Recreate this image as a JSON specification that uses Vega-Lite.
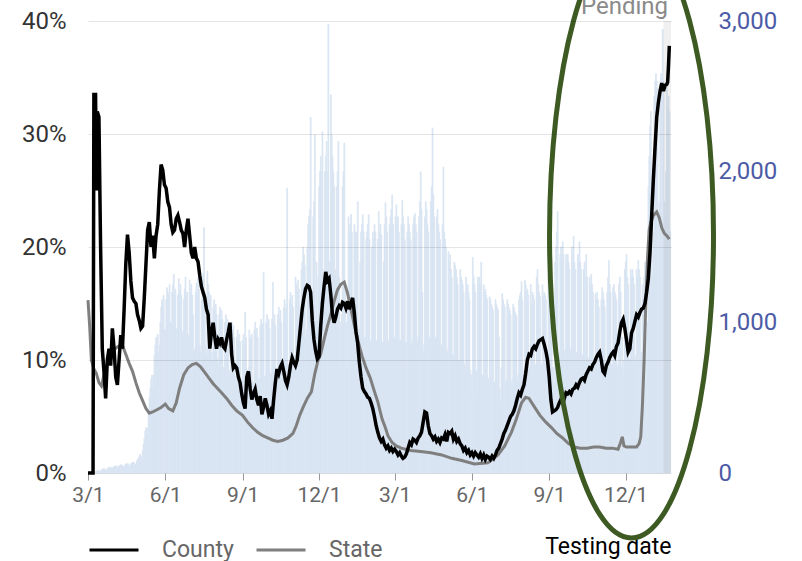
{
"$schema":"https://vega.github.io/schema/vega-lite/v6.json",
"width":583,"height":452,
"autosize":{"type":"none"},
"padding":{"left":88,"top":21,"right":131,"bottom":88},
"background":"white",
"config":{"view":{"stroke":null},"font":"Roboto"},
"datasets":{
"bars":[
{"d":"2020-03-01","n":0},{"d":"2020-03-02","n":0},{"d":"2020-03-03","n":0},{"d":"2020-03-04","n":0},{"d":"2020-03-05","n":5},{"d":"2020-03-06","n":8},{"d":"2020-03-07","n":6},
{"d":"2020-03-08","n":5},{"d":"2020-03-09","n":10},{"d":"2020-03-10","n":12},{"d":"2020-03-11","n":15},{"d":"2020-03-12","n":14},{"d":"2020-03-13","n":16},{"d":"2020-03-14","n":10},
{"d":"2020-03-15","n":12},{"d":"2020-03-16","n":20},{"d":"2020-03-17","n":25},{"d":"2020-03-18","n":28},{"d":"2020-03-19","n":30},{"d":"2020-03-20","n":26},{"d":"2020-03-21","n":18},
{"d":"2020-03-22","n":20},{"d":"2020-03-23","n":30},{"d":"2020-03-24","n":35},{"d":"2020-03-25","n":38},{"d":"2020-03-26","n":36},{"d":"2020-03-27","n":40},{"d":"2020-03-28","n":28},
{"d":"2020-03-29","n":30},{"d":"2020-03-30","n":40},{"d":"2020-03-31","n":42},{"d":"2020-04-01","n":45},{"d":"2020-04-02","n":44},{"d":"2020-04-03","n":48},{"d":"2020-04-04","n":35},
{"d":"2020-04-05","n":35},{"d":"2020-04-06","n":48},{"d":"2020-04-07","n":50},{"d":"2020-04-08","n":55},{"d":"2020-04-09","n":52},{"d":"2020-04-10","n":50},{"d":"2020-04-11","n":40},
{"d":"2020-04-12","n":40},{"d":"2020-04-13","n":55},{"d":"2020-04-14","n":60},{"d":"2020-04-15","n":62},{"d":"2020-04-16","n":58},{"d":"2020-04-17","n":60},{"d":"2020-04-18","n":45},
{"d":"2020-04-19","n":45},{"d":"2020-04-20","n":62},{"d":"2020-04-21","n":66},{"d":"2020-04-22","n":70},{"d":"2020-04-23","n":72},{"d":"2020-04-24","n":68},{"d":"2020-04-25","n":55},
{"d":"2020-04-26","n":55},{"d":"2020-04-27","n":80},{"d":"2020-04-28","n":90},{"d":"2020-04-29","n":100},{"d":"2020-04-30","n":110},{"d":"2020-05-01","n":125},{"d":"2020-05-02","n":100},
{"d":"2020-05-03","n":110},{"d":"2020-05-04","n":150},{"d":"2020-05-05","n":190},{"d":"2020-05-06","n":230},{"d":"2020-05-07","n":280},{"d":"2020-05-08","n":300},{"d":"2020-05-09","n":250},
{"d":"2020-05-10","n":300},{"d":"2020-05-11","n":420},{"d":"2020-05-12","n":500},{"d":"2020-05-13","n":560},{"d":"2020-05-14","n":620},{"d":"2020-05-15","n":650},{"d":"2020-05-16","n":560},
{"d":"2020-05-17","n":650},{"d":"2020-05-18","n":780},{"d":"2020-05-19","n":850},{"d":"2020-05-20","n":900},{"d":"2020-05-21","n":880},{"d":"2020-05-22","n":920},{"d":"2020-05-23","n":800},
{"d":"2020-05-24","n":850},{"d":"2020-05-25","n":1000},{"d":"2020-05-26","n":1100},{"d":"2020-05-27","n":1150},{"d":"2020-05-28","n":1120},{"d":"2020-05-29","n":1180},{"d":"2020-05-30","n":950},
{"d":"2020-05-31","n":950},{"d":"2020-06-01","n":1150},{"d":"2020-06-02","n":1230},{"d":"2020-06-03","n":1200},{"d":"2020-06-04","n":1180},{"d":"2020-06-05","n":1250},{"d":"2020-06-06","n":1000},
{"d":"2020-06-07","n":980},{"d":"2020-06-08","n":1200},{"d":"2020-06-09","n":1250},{"d":"2020-06-10","n":1320},{"d":"2020-06-11","n":1180},{"d":"2020-06-12","n":1220},{"d":"2020-06-13","n":950},
{"d":"2020-06-14","n":960},{"d":"2020-06-15","n":1180},{"d":"2020-06-16","n":1290},{"d":"2020-06-17","n":1200},{"d":"2020-06-18","n":1250},{"d":"2020-06-19","n":1180},{"d":"2020-06-20","n":940},
{"d":"2020-06-21","n":900},{"d":"2020-06-22","n":1150},{"d":"2020-06-23","n":1220},{"d":"2020-06-24","n":1300},{"d":"2020-06-25","n":1180},{"d":"2020-06-26","n":1200},{"d":"2020-06-27","n":920},
{"d":"2020-06-28","n":900},{"d":"2020-06-29","n":1280},{"d":"2020-06-30","n":1200},{"d":"2020-07-01","n":1250},{"d":"2020-07-02","n":1180},{"d":"2020-07-03","n":1050},{"d":"2020-07-04","n":800},
{"d":"2020-07-05","n":820},{"d":"2020-07-06","n":1200},{"d":"2020-07-07","n":1260},{"d":"2020-07-08","n":1180},{"d":"2020-07-09","n":1300},{"d":"2020-07-10","n":1220},{"d":"2020-07-11","n":850},
{"d":"2020-07-12","n":800},{"d":"2020-07-13","n":1150},{"d":"2020-07-14","n":1250},{"d":"2020-07-15","n":1320},{"d":"2020-07-16","n":1630},{"d":"2020-07-17","n":1200},{"d":"2020-07-18","n":840},
{"d":"2020-07-19","n":780},{"d":"2020-07-20","n":1340},{"d":"2020-07-21","n":1250},{"d":"2020-07-22","n":1200},{"d":"2020-07-23","n":1150},{"d":"2020-07-24","n":1180},{"d":"2020-07-25","n":800},
{"d":"2020-07-26","n":750},{"d":"2020-07-27","n":1100},{"d":"2020-07-28","n":1150},{"d":"2020-07-29","n":1080},{"d":"2020-07-30","n":1120},{"d":"2020-07-31","n":1050},{"d":"2020-08-01","n":760},
{"d":"2020-08-02","n":720},{"d":"2020-08-03","n":1050},{"d":"2020-08-04","n":1100},{"d":"2020-08-05","n":1000},{"d":"2020-08-06","n":1080},{"d":"2020-08-07","n":1020},{"d":"2020-08-08","n":700},
{"d":"2020-08-09","n":700},{"d":"2020-08-10","n":1000},{"d":"2020-08-11","n":1050},{"d":"2020-08-12","n":980},{"d":"2020-08-13","n":1020},{"d":"2020-08-14","n":950},{"d":"2020-08-15","n":680},
{"d":"2020-08-16","n":650},{"d":"2020-08-17","n":950},{"d":"2020-08-18","n":1000},{"d":"2020-08-19","n":920},{"d":"2020-08-20","n":980},{"d":"2020-08-21","n":900},{"d":"2020-08-22","n":640},
{"d":"2020-08-23","n":620},{"d":"2020-08-24","n":900},{"d":"2020-08-25","n":950},{"d":"2020-08-26","n":880},{"d":"2020-08-27","n":920},{"d":"2020-08-28","n":870},{"d":"2020-08-29","n":600},
{"d":"2020-08-30","n":600},{"d":"2020-08-31","n":880},{"d":"2020-09-01","n":920},{"d":"2020-09-02","n":850},{"d":"2020-09-03","n":1065},{"d":"2020-09-04","n":900},{"d":"2020-09-05","n":600},
{"d":"2020-09-06","n":560},{"d":"2020-09-07","n":700},{"d":"2020-09-08","n":950},{"d":"2020-09-09","n":900},{"d":"2020-09-10","n":880},{"d":"2020-09-11","n":920},{"d":"2020-09-12","n":600},
{"d":"2020-09-13","n":600},{"d":"2020-09-14","n":950},{"d":"2020-09-15","n":1000},{"d":"2020-09-16","n":920},{"d":"2020-09-17","n":960},{"d":"2020-09-18","n":900},{"d":"2020-09-19","n":620},
{"d":"2020-09-20","n":620},{"d":"2020-09-21","n":980},{"d":"2020-09-22","n":1020},{"d":"2020-09-23","n":950},{"d":"2020-09-24","n":990},{"d":"2020-09-25","n":1330},{"d":"2020-09-26","n":640},
{"d":"2020-09-27","n":640},{"d":"2020-09-28","n":1000},{"d":"2020-09-29","n":1050},{"d":"2020-09-30","n":980},{"d":"2020-10-01","n":1020},{"d":"2020-10-02","n":960},{"d":"2020-10-03","n":660},
{"d":"2020-10-04","n":650},{"d":"2020-10-05","n":1020},{"d":"2020-10-06","n":1265},{"d":"2020-10-07","n":1000},{"d":"2020-10-08","n":1050},{"d":"2020-10-09","n":980},{"d":"2020-10-10","n":680},
{"d":"2020-10-11","n":680},{"d":"2020-10-12","n":1050},{"d":"2020-10-13","n":1100},{"d":"2020-10-14","n":1020},{"d":"2020-10-15","n":1080},{"d":"2020-10-16","n":1000},{"d":"2020-10-17","n":700},
{"d":"2020-10-18","n":700},{"d":"2020-10-19","n":1100},{"d":"2020-10-20","n":1150},{"d":"2020-10-21","n":1080},{"d":"2020-10-22","n":1120},{"d":"2020-10-23","n":1890},{"d":"2020-10-24","n":720},
{"d":"2020-10-25","n":720},{"d":"2020-10-26","n":1150},{"d":"2020-10-27","n":1200},{"d":"2020-10-28","n":1120},{"d":"2020-10-29","n":1180},{"d":"2020-10-30","n":1100},{"d":"2020-10-31","n":750},
{"d":"2020-11-01","n":780},{"d":"2020-11-02","n":1300},{"d":"2020-11-03","n":1250},{"d":"2020-11-04","n":1200},{"d":"2020-11-05","n":1280},{"d":"2020-11-06","n":1220},{"d":"2020-11-07","n":820},
{"d":"2020-11-08","n":850},{"d":"2020-11-09","n":1350},{"d":"2020-11-10","n":1400},{"d":"2020-11-11","n":1500},{"d":"2020-11-12","n":1450},{"d":"2020-11-13","n":1380},{"d":"2020-11-14","n":900},
{"d":"2020-11-15","n":950},{"d":"2020-11-16","n":1500},{"d":"2020-11-17","n":1650},{"d":"2020-11-18","n":1700},{"d":"2020-11-19","n":1750},{"d":"2020-11-20","n":2360},{"d":"2020-11-21","n":1050},
{"d":"2020-11-22","n":1000},{"d":"2020-11-23","n":1700},{"d":"2020-11-24","n":1800},{"d":"2020-11-25","n":2245},{"d":"2020-11-26","n":1000},{"d":"2020-11-27","n":1400},{"d":"2020-11-28","n":1000},
{"d":"2020-11-29","n":1300},{"d":"2020-11-30","n":1900},{"d":"2020-12-01","n":2000},{"d":"2020-12-02","n":2100},{"d":"2020-12-03","n":2000},{"d":"2020-12-04","n":2265},{"d":"2020-12-05","n":1300},
{"d":"2020-12-06","n":1350},{"d":"2020-12-07","n":2000},{"d":"2020-12-08","n":2100},{"d":"2020-12-09","n":2200},{"d":"2020-12-10","n":2000},{"d":"2020-12-11","n":2980},{"d":"2020-12-12","n":1400},
{"d":"2020-12-13","n":1400},{"d":"2020-12-14","n":2510},{"d":"2020-12-15","n":2245},{"d":"2020-12-16","n":2100},{"d":"2020-12-17","n":2000},{"d":"2020-12-18","n":1900},{"d":"2020-12-19","n":1350},
{"d":"2020-12-20","n":1300},{"d":"2020-12-21","n":1900},{"d":"2020-12-22","n":2000},{"d":"2020-12-23","n":2200},{"d":"2020-12-24","n":1300},{"d":"2020-12-25","n":700},{"d":"2020-12-26","n":1000},
{"d":"2020-12-27","n":1050},{"d":"2020-12-28","n":1900},{"d":"2020-12-29","n":2000},{"d":"2020-12-30","n":2190},{"d":"2020-12-31","n":1200},{"d":"2021-01-01","n":700},{"d":"2021-01-02","n":1000},
{"d":"2021-01-03","n":1100},{"d":"2021-01-04","n":1700},{"d":"2021-01-05","n":1600},{"d":"2021-01-06","n":1650},{"d":"2021-01-07","n":1715},{"d":"2021-01-08","n":1600},{"d":"2021-01-09","n":1000},
{"d":"2021-01-10","n":1050},{"d":"2021-01-11","n":1650},{"d":"2021-01-12","n":1600},{"d":"2021-01-13","n":1550},{"d":"2021-01-14","n":1600},{"d":"2021-01-15","n":1800},{"d":"2021-01-16","n":950},
{"d":"2021-01-17","n":950},{"d":"2021-01-18","n":1400},{"d":"2021-01-19","n":1600},{"d":"2021-01-20","n":1650},{"d":"2021-01-21","n":1715},{"d":"2021-01-22","n":1600},{"d":"2021-01-23","n":900},
{"d":"2021-01-24","n":900},{"d":"2021-01-25","n":1550},{"d":"2021-01-26","n":1600},{"d":"2021-01-27","n":1650},{"d":"2021-01-28","n":1715},{"d":"2021-01-29","n":1550},{"d":"2021-01-30","n":880},
{"d":"2021-01-31","n":880},{"d":"2021-02-01","n":1500},{"d":"2021-02-02","n":1600},{"d":"2021-02-03","n":1550},{"d":"2021-02-04","n":1650},{"d":"2021-02-05","n":1600},{"d":"2021-02-06","n":860},
{"d":"2021-02-07","n":880},{"d":"2021-02-08","n":1550},{"d":"2021-02-09","n":1735},{"d":"2021-02-10","n":1600},{"d":"2021-02-11","n":1650},{"d":"2021-02-12","n":1580},{"d":"2021-02-13","n":870},
{"d":"2021-02-14","n":860},{"d":"2021-02-15","n":1400},{"d":"2021-02-16","n":1650},{"d":"2021-02-17","n":1795},{"d":"2021-02-18","n":1700},{"d":"2021-02-19","n":1600},{"d":"2021-02-20","n":850},
{"d":"2021-02-21","n":880},{"d":"2021-02-22","n":1650},{"d":"2021-02-23","n":1700},{"d":"2021-02-24","n":1750},{"d":"2021-02-25","n":1845},{"d":"2021-02-26","n":1650},{"d":"2021-02-27","n":880},
{"d":"2021-02-28","n":900},{"d":"2021-03-01","n":1700},{"d":"2021-03-02","n":1780},{"d":"2021-03-03","n":1650},{"d":"2021-03-04","n":1700},{"d":"2021-03-05","n":1600},{"d":"2021-03-06","n":880},
{"d":"2021-03-07","n":880},{"d":"2021-03-08","n":1650},{"d":"2021-03-09","n":1810},{"d":"2021-03-10","n":1700},{"d":"2021-03-11","n":1650},{"d":"2021-03-12","n":1550},{"d":"2021-03-13","n":860},
{"d":"2021-03-14","n":870},{"d":"2021-03-15","n":1600},{"d":"2021-03-16","n":1700},{"d":"2021-03-17","n":1650},{"d":"2021-03-18","n":1600},{"d":"2021-03-19","n":1550},{"d":"2021-03-20","n":850},
{"d":"2021-03-21","n":880},{"d":"2021-03-22","n":1650},{"d":"2021-03-23","n":1700},{"d":"2021-03-24","n":1720},{"d":"2021-03-25","n":1650},{"d":"2021-03-26","n":1600},{"d":"2021-03-27","n":870},
{"d":"2021-03-28","n":900},{"d":"2021-03-29","n":1700},{"d":"2021-03-30","n":1800},{"d":"2021-03-31","n":2000},{"d":"2021-04-01","n":1750},{"d":"2021-04-02","n":1200},{"d":"2021-04-03","n":800},
{"d":"2021-04-04","n":850},{"d":"2021-04-05","n":1700},{"d":"2021-04-06","n":1800},{"d":"2021-04-07","n":1750},{"d":"2021-04-08","n":1650},{"d":"2021-04-09","n":1600},{"d":"2021-04-10","n":880},
{"d":"2021-04-11","n":900},{"d":"2021-04-12","n":1800},{"d":"2021-04-13","n":1900},{"d":"2021-04-14","n":2290},{"d":"2021-04-15","n":1850},{"d":"2021-04-16","n":1700},{"d":"2021-04-17","n":900},
{"d":"2021-04-18","n":880},{"d":"2021-04-19","n":1700},{"d":"2021-04-20","n":1750},{"d":"2021-04-21","n":1650},{"d":"2021-04-22","n":1600},{"d":"2021-04-23","n":1550},{"d":"2021-04-24","n":850},
{"d":"2021-04-25","n":850},{"d":"2021-04-26","n":1650},{"d":"2021-04-27","n":2030},{"d":"2021-04-28","n":1600},{"d":"2021-04-29","n":1550},{"d":"2021-04-30","n":1500},{"d":"2021-05-01","n":820},
{"d":"2021-05-02","n":800},{"d":"2021-05-03","n":1470},{"d":"2021-05-04","n":1400},{"d":"2021-05-05","n":1450},{"d":"2021-05-06","n":1350},{"d":"2021-05-07","n":1300},{"d":"2021-05-08","n":780},
{"d":"2021-05-09","n":780},{"d":"2021-05-10","n":1400},{"d":"2021-05-11","n":1380},{"d":"2021-05-12","n":1350},{"d":"2021-05-13","n":1300},{"d":"2021-05-14","n":1250},{"d":"2021-05-15","n":750},
{"d":"2021-05-16","n":750},{"d":"2021-05-17","n":1350},{"d":"2021-05-18","n":1300},{"d":"2021-05-19","n":1280},{"d":"2021-05-20","n":1250},{"d":"2021-05-21","n":1200},{"d":"2021-05-22","n":720},
{"d":"2021-05-23","n":700},{"d":"2021-05-24","n":1300},{"d":"2021-05-25","n":1110},{"d":"2021-05-26","n":1250},{"d":"2021-05-27","n":1200},{"d":"2021-05-28","n":1150},{"d":"2021-05-29","n":680},
{"d":"2021-05-30","n":650},{"d":"2021-05-31","n":500},{"d":"2021-06-01","n":1430},{"d":"2021-06-02","n":1300},{"d":"2021-06-03","n":1250},{"d":"2021-06-04","n":1200},{"d":"2021-06-05","n":650},
{"d":"2021-06-06","n":680},{"d":"2021-06-07","n":1300},{"d":"2021-06-08","n":1250},{"d":"2021-06-09","n":1300},{"d":"2021-06-10","n":1250},{"d":"2021-06-11","n":1400},{"d":"2021-06-12","n":650},
{"d":"2021-06-13","n":650},{"d":"2021-06-14","n":1250},{"d":"2021-06-15","n":1200},{"d":"2021-06-16","n":1220},{"d":"2021-06-17","n":1180},{"d":"2021-06-18","n":1150},{"d":"2021-06-19","n":630},
{"d":"2021-06-20","n":620},{"d":"2021-06-21","n":1170},{"d":"2021-06-22","n":1150},{"d":"2021-06-23","n":1120},{"d":"2021-06-24","n":1100},{"d":"2021-06-25","n":1080},{"d":"2021-06-26","n":600},
{"d":"2021-06-27","n":600},{"d":"2021-06-28","n":1150},{"d":"2021-06-29","n":1120},{"d":"2021-06-30","n":1100},{"d":"2021-07-01","n":1080},{"d":"2021-07-02","n":900},{"d":"2021-07-03","n":560},
{"d":"2021-07-04","n":470},{"d":"2021-07-05","n":700},{"d":"2021-07-06","n":1190},{"d":"2021-07-07","n":1150},{"d":"2021-07-08","n":1120},{"d":"2021-07-09","n":1100},{"d":"2021-07-10","n":600},
{"d":"2021-07-11","n":620},{"d":"2021-07-12","n":1150},{"d":"2021-07-13","n":1120},{"d":"2021-07-14","n":1100},{"d":"2021-07-15","n":1080},{"d":"2021-07-16","n":1050},{"d":"2021-07-17","n":600},
{"d":"2021-07-18","n":620},{"d":"2021-07-19","n":1120},{"d":"2021-07-20","n":1100},{"d":"2021-07-21","n":1070},{"d":"2021-07-22","n":1060},{"d":"2021-07-23","n":1040},{"d":"2021-07-24","n":600},
{"d":"2021-07-25","n":650},{"d":"2021-07-26","n":1150},{"d":"2021-07-27","n":1180},{"d":"2021-07-28","n":1200},{"d":"2021-07-29","n":1270},{"d":"2021-07-30","n":1150},{"d":"2021-07-31","n":650},
{"d":"2021-08-01","n":680},{"d":"2021-08-02","n":1280},{"d":"2021-08-03","n":1250},{"d":"2021-08-04","n":1200},{"d":"2021-08-05","n":1220},{"d":"2021-08-06","n":1180},{"d":"2021-08-07","n":680},
{"d":"2021-08-08","n":700},{"d":"2021-08-09","n":1250},{"d":"2021-08-10","n":1110},{"d":"2021-08-11","n":1200},{"d":"2021-08-12","n":1180},{"d":"2021-08-13","n":1150},{"d":"2021-08-14","n":700},
{"d":"2021-08-15","n":720},{"d":"2021-08-16","n":1300},{"d":"2021-08-17","n":1350},{"d":"2021-08-18","n":1250},{"d":"2021-08-19","n":1200},{"d":"2021-08-20","n":1170},{"d":"2021-08-21","n":720},
{"d":"2021-08-22","n":720},{"d":"2021-08-23","n":1250},{"d":"2021-08-24","n":1170},{"d":"2021-08-25","n":1200},{"d":"2021-08-26","n":1180},{"d":"2021-08-27","n":1150},{"d":"2021-08-28","n":700},
{"d":"2021-08-29","n":720},{"d":"2021-08-30","n":1300},{"d":"2021-08-31","n":1250},{"d":"2021-09-01","n":1280},{"d":"2021-09-02","n":1250},{"d":"2021-09-03","n":1200},{"d":"2021-09-04","n":700},
{"d":"2021-09-05","n":700},{"d":"2021-09-06","n":600},{"d":"2021-09-07","n":1400},{"d":"2021-09-08","n":1500},{"d":"2021-09-09","n":1600},{"d":"2021-09-10","n":1735},{"d":"2021-09-11","n":750},
{"d":"2021-09-12","n":800},{"d":"2021-09-13","n":1450},{"d":"2021-09-14","n":1500},{"d":"2021-09-15","n":1400},{"d":"2021-09-16","n":1535},{"d":"2021-09-17","n":1450},{"d":"2021-09-18","n":800},
{"d":"2021-09-19","n":820},{"d":"2021-09-20","n":1450},{"d":"2021-09-21","n":1400},{"d":"2021-09-22","n":1450},{"d":"2021-09-23","n":1400},{"d":"2021-09-24","n":1350},{"d":"2021-09-25","n":800},
{"d":"2021-09-26","n":830},{"d":"2021-09-27","n":1500},{"d":"2021-09-28","n":1450},{"d":"2021-09-29","n":1570},{"d":"2021-09-30","n":1400},{"d":"2021-10-01","n":1350},{"d":"2021-10-02","n":800},
{"d":"2021-10-03","n":800},{"d":"2021-10-04","n":1450},{"d":"2021-10-05","n":1400},{"d":"2021-10-06","n":1535},{"d":"2021-10-07","n":1400},{"d":"2021-10-08","n":1350},{"d":"2021-10-09","n":780},
{"d":"2021-10-10","n":780},{"d":"2021-10-11","n":1350},{"d":"2021-10-12","n":1400},{"d":"2021-10-13","n":1300},{"d":"2021-10-14","n":1450},{"d":"2021-10-15","n":1300},{"d":"2021-10-16","n":760},
{"d":"2021-10-17","n":760},{"d":"2021-10-18","n":1300},{"d":"2021-10-19","n":1250},{"d":"2021-10-20","n":1320},{"d":"2021-10-21","n":1250},{"d":"2021-10-22","n":1200},{"d":"2021-10-23","n":740},
{"d":"2021-10-24","n":750},{"d":"2021-10-25","n":1190},{"d":"2021-10-26","n":1150},{"d":"2021-10-27","n":1200},{"d":"2021-10-28","n":1150},{"d":"2021-10-29","n":1100},{"d":"2021-10-30","n":720},
{"d":"2021-10-31","n":720},{"d":"2021-11-01","n":1150},{"d":"2021-11-02","n":1230},{"d":"2021-11-03","n":1200},{"d":"2021-11-04","n":1150},{"d":"2021-11-05","n":1100},{"d":"2021-11-06","n":700},
{"d":"2021-11-07","n":720},{"d":"2021-11-08","n":1200},{"d":"2021-11-09","n":1300},{"d":"2021-11-10","n":1410},{"d":"2021-11-11","n":1250},{"d":"2021-11-12","n":1200},{"d":"2021-11-13","n":720},
{"d":"2021-11-14","n":720},{"d":"2021-11-15","n":1230},{"d":"2021-11-16","n":1250},{"d":"2021-11-17","n":1200},{"d":"2021-11-18","n":1180},{"d":"2021-11-19","n":1150},{"d":"2021-11-20","n":700},
{"d":"2021-11-21","n":720},{"d":"2021-11-22","n":1250},{"d":"2021-11-23","n":1300},{"d":"2021-11-24","n":1200},{"d":"2021-11-25","n":700},{"d":"2021-11-26","n":900},{"d":"2021-11-27","n":650},
{"d":"2021-11-28","n":750},{"d":"2021-11-29","n":1350},{"d":"2021-11-30","n":1400},{"d":"2021-12-01","n":1450},{"d":"2021-12-02","n":1300},{"d":"2021-12-03","n":1250},{"d":"2021-12-04","n":750},
{"d":"2021-12-05","n":760},{"d":"2021-12-06","n":1350},{"d":"2021-12-07","n":1300},{"d":"2021-12-08","n":1350},{"d":"2021-12-09","n":1300},{"d":"2021-12-10","n":1250},{"d":"2021-12-11","n":740},
{"d":"2021-12-12","n":780},{"d":"2021-12-13","n":1350},{"d":"2021-12-14","n":1300},{"d":"2021-12-15","n":1410},{"d":"2021-12-16","n":1350},{"d":"2021-12-17","n":1300},{"d":"2021-12-18","n":760},
{"d":"2021-12-19","n":800},{"d":"2021-12-20","n":1250},{"d":"2021-12-21","n":1150},{"d":"2021-12-22","n":1300},{"d":"2021-12-23","n":1400},{"d":"2021-12-24","n":900},{"d":"2021-12-25","n":600},
{"d":"2021-12-26","n":1000},{"d":"2021-12-27","n":1900},{"d":"2021-12-28","n":2100},{"d":"2021-12-29","n":2300},{"d":"2021-12-30","n":2400},{"d":"2021-12-31","n":1800},{"d":"2022-01-01","n":1300},
{"d":"2022-01-02","n":1600},{"d":"2022-01-03","n":2500},{"d":"2022-01-04","n":2600},{"d":"2022-01-05","n":2650},{"d":"2022-01-06","n":2600},{"d":"2022-01-07","n":2550},{"d":"2022-01-08","n":1700},
{"d":"2022-01-09","n":1800},{"d":"2022-01-10","n":2600},{"d":"2022-01-11","n":2650},{"d":"2022-01-12","n":2620},{"d":"2022-01-13","n":2945},{"d":"2022-01-14","n":2600},{"d":"2022-01-15","n":1800},
{"d":"2022-01-16","n":1700},{"d":"2022-01-17","n":2000},{"d":"2022-01-18","n":2600},{"d":"2022-01-19","n":2430},{"d":"2022-01-20","n":2500},{"d":"2022-01-21","n":2400},{"d":"2022-01-22","n":1600}
],
"county":[
{"d":"2020-03-01","c":0},{"d":"2020-03-07","c":0},{"d":"2020-03-08","c":0.335},{"d":"2020-03-10","c":0.335},{"d":"2020-03-11","c":0.25},{"d":"2020-03-12","c":0.32},{"d":"2020-03-14","c":0.315},{"d":"2020-03-16","c":0.2},{"d":"2020-03-18","c":0.11},{"d":"2020-03-20","c":0.09},{"d":"2020-03-22","c":0.066},{"d":"2020-03-24","c":0.1},{"d":"2020-03-26","c":0.11},{"d":"2020-03-28","c":0.095},{"d":"2020-03-30","c":0.128},
{"d":"2020-04-01","c":0.11},{"d":"2020-04-03","c":0.085},{"d":"2020-04-05","c":0.078},{"d":"2020-04-07","c":0.1},{"d":"2020-04-09","c":0.122},{"d":"2020-04-11","c":0.11},{"d":"2020-04-13","c":0.145},{"d":"2020-04-15","c":0.185},{"d":"2020-04-17","c":0.211},{"d":"2020-04-19","c":0.195},{"d":"2020-04-21","c":0.17},{"d":"2020-04-23","c":0.155},{"d":"2020-04-25","c":0.152},{"d":"2020-04-27","c":0.15},{"d":"2020-04-29","c":0.14},
{"d":"2020-05-01","c":0.135},{"d":"2020-05-03","c":0.128},{"d":"2020-05-05","c":0.13},{"d":"2020-05-07","c":0.155},{"d":"2020-05-09","c":0.185},{"d":"2020-05-11","c":0.215},{"d":"2020-05-13","c":0.222},{"d":"2020-05-15","c":0.2},{"d":"2020-05-17","c":0.21},{"d":"2020-05-19","c":0.19},{"d":"2020-05-21","c":0.21},{"d":"2020-05-23","c":0.22},{"d":"2020-05-25","c":0.25},{"d":"2020-05-27","c":0.273},{"d":"2020-05-29","c":0.268},{"d":"2020-05-31","c":0.255},
{"d":"2020-06-02","c":0.252},{"d":"2020-06-04","c":0.24},{"d":"2020-06-06","c":0.235},{"d":"2020-06-08","c":0.22},{"d":"2020-06-10","c":0.213},{"d":"2020-06-12","c":0.215},{"d":"2020-06-14","c":0.225},{"d":"2020-06-16","c":0.228},{"d":"2020-06-18","c":0.222},{"d":"2020-06-20","c":0.215},{"d":"2020-06-22","c":0.212},{"d":"2020-06-24","c":0.2},{"d":"2020-06-26","c":0.215},{"d":"2020-06-28","c":0.225},{"d":"2020-06-30","c":0.21},
{"d":"2020-07-02","c":0.195},{"d":"2020-07-04","c":0.19},{"d":"2020-07-06","c":0.2},{"d":"2020-07-08","c":0.19},{"d":"2020-07-10","c":0.187},{"d":"2020-07-12","c":0.175},{"d":"2020-07-14","c":0.165},{"d":"2020-07-16","c":0.16},{"d":"2020-07-18","c":0.155},{"d":"2020-07-20","c":0.145},{"d":"2020-07-22","c":0.14},{"d":"2020-07-24","c":0.11},{"d":"2020-07-26","c":0.125},{"d":"2020-07-28","c":0.133},{"d":"2020-07-30","c":0.12},
{"d":"2020-08-01","c":0.11},{"d":"2020-08-03","c":0.118},{"d":"2020-08-05","c":0.115},{"d":"2020-08-07","c":0.12},{"d":"2020-08-09","c":0.112},{"d":"2020-08-11","c":0.11},{"d":"2020-08-13","c":0.118},{"d":"2020-08-15","c":0.125},{"d":"2020-08-17","c":0.133},{"d":"2020-08-19","c":0.105},{"d":"2020-08-21","c":0.093},{"d":"2020-08-23","c":0.095},{"d":"2020-08-25","c":0.093},{"d":"2020-08-27","c":0.085},{"d":"2020-08-29","c":0.08},{"d":"2020-08-31","c":0.07},
{"d":"2020-09-02","c":0.062},{"d":"2020-09-04","c":0.057},{"d":"2020-09-06","c":0.085},{"d":"2020-09-08","c":0.09},{"d":"2020-09-10","c":0.075},{"d":"2020-09-12","c":0.065},{"d":"2020-09-14","c":0.07},{"d":"2020-09-16","c":0.074},{"d":"2020-09-18","c":0.065},{"d":"2020-09-20","c":0.06},{"d":"2020-09-22","c":0.068},{"d":"2020-09-24","c":0.052},{"d":"2020-09-26","c":0.058},{"d":"2020-09-28","c":0.066},{"d":"2020-09-30","c":0.06},
{"d":"2020-10-02","c":0.052},{"d":"2020-10-04","c":0.055},{"d":"2020-10-06","c":0.048},{"d":"2020-10-08","c":0.065},{"d":"2020-10-10","c":0.08},{"d":"2020-10-12","c":0.092},{"d":"2020-10-14","c":0.088},{"d":"2020-10-16","c":0.094},{"d":"2020-10-18","c":0.097},{"d":"2020-10-20","c":0.09},{"d":"2020-10-22","c":0.082},{"d":"2020-10-24","c":0.078},{"d":"2020-10-26","c":0.085},{"d":"2020-10-28","c":0.095},{"d":"2020-10-30","c":0.102},
{"d":"2020-11-01","c":0.098},{"d":"2020-11-03","c":0.095},{"d":"2020-11-05","c":0.1},{"d":"2020-11-07","c":0.115},{"d":"2020-11-09","c":0.13},{"d":"2020-11-11","c":0.145},{"d":"2020-11-13","c":0.155},{"d":"2020-11-15","c":0.163},{"d":"2020-11-17","c":0.166},{"d":"2020-11-19","c":0.165},{"d":"2020-11-21","c":0.16},{"d":"2020-11-23","c":0.135},{"d":"2020-11-25","c":0.118},{"d":"2020-11-27","c":0.108},{"d":"2020-11-29","c":0.101},
{"d":"2020-12-01","c":0.103},{"d":"2020-12-03","c":0.13},{"d":"2020-12-05","c":0.15},{"d":"2020-12-07","c":0.165},{"d":"2020-12-09","c":0.178},{"d":"2020-12-11","c":0.17},{"d":"2020-12-13","c":0.172},{"d":"2020-12-15","c":0.158},{"d":"2020-12-17","c":0.14},{"d":"2020-12-19","c":0.133},{"d":"2020-12-21","c":0.138},{"d":"2020-12-23","c":0.145},{"d":"2020-12-25","c":0.148},{"d":"2020-12-27","c":0.146},{"d":"2020-12-29","c":0.151},{"d":"2020-12-31","c":0.15},
{"d":"2021-01-02","c":0.146},{"d":"2021-01-04","c":0.152},{"d":"2021-01-06","c":0.145},{"d":"2021-01-08","c":0.15},{"d":"2021-01-10","c":0.155},{"d":"2021-01-12","c":0.142},{"d":"2021-01-14","c":0.125},{"d":"2021-01-16","c":0.115},{"d":"2021-01-18","c":0.098},{"d":"2021-01-20","c":0.085},{"d":"2021-01-22","c":0.075},{"d":"2021-01-24","c":0.072},{"d":"2021-01-26","c":0.07},{"d":"2021-01-28","c":0.067},{"d":"2021-01-30","c":0.066},
{"d":"2021-02-01","c":0.062},{"d":"2021-02-03","c":0.057},{"d":"2021-02-05","c":0.05},{"d":"2021-02-07","c":0.042},{"d":"2021-02-09","c":0.036},{"d":"2021-02-11","c":0.031},{"d":"2021-02-13","c":0.028},{"d":"2021-02-15","c":0.03},{"d":"2021-02-17","c":0.025},{"d":"2021-02-19","c":0.022},{"d":"2021-02-21","c":0.024},{"d":"2021-02-23","c":0.02},{"d":"2021-02-25","c":0.022},{"d":"2021-02-27","c":0.019},
{"d":"2021-03-01","c":0.021},{"d":"2021-03-03","c":0.019},{"d":"2021-03-05","c":0.016},{"d":"2021-03-07","c":0.018},{"d":"2021-03-09","c":0.015},{"d":"2021-03-11","c":0.013},{"d":"2021-03-13","c":0.014},{"d":"2021-03-15","c":0.017},{"d":"2021-03-17","c":0.022},{"d":"2021-03-19","c":0.027},{"d":"2021-03-21","c":0.025},{"d":"2021-03-23","c":0.03},{"d":"2021-03-25","c":0.029},{"d":"2021-03-27","c":0.027},{"d":"2021-03-29","c":0.031},{"d":"2021-03-31","c":0.033},
{"d":"2021-04-02","c":0.036},{"d":"2021-04-04","c":0.045},{"d":"2021-04-06","c":0.054},{"d":"2021-04-08","c":0.053},{"d":"2021-04-10","c":0.042},{"d":"2021-04-12","c":0.035},{"d":"2021-04-14","c":0.033},{"d":"2021-04-16","c":0.03},{"d":"2021-04-18","c":0.032},{"d":"2021-04-20","c":0.028},{"d":"2021-04-22","c":0.03},{"d":"2021-04-24","c":0.027},{"d":"2021-04-26","c":0.031},{"d":"2021-04-28","c":0.03},{"d":"2021-04-30","c":0.034},
{"d":"2021-05-02","c":0.028},{"d":"2021-05-04","c":0.036},{"d":"2021-05-06","c":0.035},{"d":"2021-05-08","c":0.037},{"d":"2021-05-10","c":0.03},{"d":"2021-05-12","c":0.033},{"d":"2021-05-14","c":0.028},{"d":"2021-05-16","c":0.03},{"d":"2021-05-18","c":0.026},{"d":"2021-05-20","c":0.024},{"d":"2021-05-22","c":0.02},{"d":"2021-05-24","c":0.022},{"d":"2021-05-26","c":0.018},{"d":"2021-05-28","c":0.02},{"d":"2021-05-30","c":0.016},
{"d":"2021-06-01","c":0.018},{"d":"2021-06-03","c":0.015},{"d":"2021-06-05","c":0.018},{"d":"2021-06-07","c":0.016},{"d":"2021-06-09","c":0.014},{"d":"2021-06-11","c":0.017},{"d":"2021-06-13","c":0.013},{"d":"2021-06-15","c":0.016},{"d":"2021-06-17","c":0.012},{"d":"2021-06-19","c":0.015},{"d":"2021-06-21","c":0.014},{"d":"2021-06-23","c":0.012},{"d":"2021-06-25","c":0.015},{"d":"2021-06-27","c":0.013},{"d":"2021-06-29","c":0.016},
{"d":"2021-07-01","c":0.02},{"d":"2021-07-03","c":0.022},{"d":"2021-07-05","c":0.026},{"d":"2021-07-07","c":0.03},{"d":"2021-07-09","c":0.035},{"d":"2021-07-11","c":0.038},{"d":"2021-07-13","c":0.042},{"d":"2021-07-15","c":0.046},{"d":"2021-07-17","c":0.05},{"d":"2021-07-19","c":0.052},{"d":"2021-07-21","c":0.055},{"d":"2021-07-23","c":0.06},{"d":"2021-07-25","c":0.066},{"d":"2021-07-27","c":0.071},{"d":"2021-07-29","c":0.069},{"d":"2021-07-31","c":0.074},
{"d":"2021-08-02","c":0.078},{"d":"2021-08-04","c":0.088},{"d":"2021-08-06","c":0.1},{"d":"2021-08-08","c":0.105},{"d":"2021-08-10","c":0.104},{"d":"2021-08-12","c":0.11},{"d":"2021-08-14","c":0.112},{"d":"2021-08-16","c":0.11},{"d":"2021-08-18","c":0.114},{"d":"2021-08-20","c":0.117},{"d":"2021-08-22","c":0.118},{"d":"2021-08-24","c":0.119},{"d":"2021-08-26","c":0.114},{"d":"2021-08-28","c":0.108},{"d":"2021-08-30","c":0.1},
{"d":"2021-09-01","c":0.085},{"d":"2021-09-03","c":0.065},{"d":"2021-09-05","c":0.054},{"d":"2021-09-07","c":0.055},{"d":"2021-09-09","c":0.056},{"d":"2021-09-11","c":0.058},{"d":"2021-09-13","c":0.062},{"d":"2021-09-15","c":0.065},{"d":"2021-09-17","c":0.069},{"d":"2021-09-19","c":0.066},{"d":"2021-09-21","c":0.071},{"d":"2021-09-23","c":0.07},{"d":"2021-09-25","c":0.072},{"d":"2021-09-27","c":0.07},{"d":"2021-09-29","c":0.074},
{"d":"2021-10-01","c":0.075},{"d":"2021-10-03","c":0.078},{"d":"2021-10-05","c":0.076},{"d":"2021-10-07","c":0.08},{"d":"2021-10-09","c":0.083},{"d":"2021-10-11","c":0.084},{"d":"2021-10-13","c":0.082},{"d":"2021-10-15","c":0.087},{"d":"2021-10-17","c":0.09},{"d":"2021-10-19","c":0.093},{"d":"2021-10-21","c":0.092},{"d":"2021-10-23","c":0.096},{"d":"2021-10-25","c":0.098},{"d":"2021-10-27","c":0.102},{"d":"2021-10-29","c":0.105},{"d":"2021-10-31","c":0.107},
{"d":"2021-11-02","c":0.1},{"d":"2021-11-04","c":0.09},{"d":"2021-11-06","c":0.088},{"d":"2021-11-08","c":0.095},{"d":"2021-11-10","c":0.098},{"d":"2021-11-12","c":0.102},{"d":"2021-11-14","c":0.105},{"d":"2021-11-16","c":0.107},{"d":"2021-11-18","c":0.104},{"d":"2021-11-20","c":0.112},{"d":"2021-11-22","c":0.115},{"d":"2021-11-24","c":0.125},{"d":"2021-11-26","c":0.133},{"d":"2021-11-28","c":0.136},{"d":"2021-11-30","c":0.128},
{"d":"2021-12-02","c":0.118},{"d":"2021-12-04","c":0.107},{"d":"2021-12-06","c":0.11},{"d":"2021-12-08","c":0.124},{"d":"2021-12-10","c":0.128},{"d":"2021-12-12","c":0.134},{"d":"2021-12-14","c":0.14},{"d":"2021-12-16","c":0.138},{"d":"2021-12-18","c":0.142},{"d":"2021-12-20","c":0.145},{"d":"2021-12-22","c":0.146},{"d":"2021-12-24","c":0.15},{"d":"2021-12-26","c":0.16},{"d":"2021-12-28","c":0.172},{"d":"2021-12-30","c":0.195},
{"d":"2022-01-01","c":0.228},{"d":"2022-01-03","c":0.26},{"d":"2022-01-05","c":0.288},{"d":"2022-01-07","c":0.315},{"d":"2022-01-09","c":0.328},{"d":"2022-01-11","c":0.338},{"d":"2022-01-13","c":0.345},{"d":"2022-01-15","c":0.338},{"d":"2022-01-17","c":0.343},{"d":"2022-01-19","c":0.344},{"d":"2022-01-20","c":0.346},{"d":"2022-01-21","c":0.36},{"d":"2022-01-22","c":0.378}
],
"state":[
{"d":"2020-03-01","s":0.153},{"d":"2020-03-03","s":0.13},{"d":"2020-03-05","s":0.1},{"d":"2020-03-08","s":0.092},{"d":"2020-03-11","s":0.088},{"d":"2020-03-14","s":0.08},{"d":"2020-03-17","s":0.077},{"d":"2020-03-21","s":0.09},{"d":"2020-03-25","s":0.1},{"d":"2020-03-29","s":0.108},{"d":"2020-04-02","s":0.11},{"d":"2020-04-06","s":0.112},{"d":"2020-04-11","s":0.113},{"d":"2020-04-15","s":0.105},{"d":"2020-04-19","s":0.097},{"d":"2020-04-23","s":0.09},{"d":"2020-04-27","s":0.08},
{"d":"2020-05-01","s":0.071},{"d":"2020-05-05","s":0.064},{"d":"2020-05-09","s":0.057},{"d":"2020-05-13","s":0.053},{"d":"2020-05-17","s":0.054},{"d":"2020-05-22","s":0.056},{"d":"2020-05-27","s":0.058},{"d":"2020-06-01","s":0.061},{"d":"2020-06-05","s":0.057},{"d":"2020-06-10","s":0.055},{"d":"2020-06-14","s":0.062},{"d":"2020-06-18","s":0.075},{"d":"2020-06-23","s":0.087},{"d":"2020-06-28","s":0.093},
{"d":"2020-07-03","s":0.096},{"d":"2020-07-08","s":0.097},{"d":"2020-07-13","s":0.094},{"d":"2020-07-18","s":0.089},{"d":"2020-07-23","s":0.084},{"d":"2020-07-28","s":0.079},{"d":"2020-08-02","s":0.075},{"d":"2020-08-07","s":0.071},{"d":"2020-08-13","s":0.066},{"d":"2020-08-19","s":0.06},{"d":"2020-08-25","s":0.055},{"d":"2020-09-01","s":0.051},{"d":"2020-09-07","s":0.045},{"d":"2020-09-13","s":0.04},{"d":"2020-09-19","s":0.036},{"d":"2020-09-25","s":0.033},
{"d":"2020-10-01","s":0.031},{"d":"2020-10-07","s":0.029},{"d":"2020-10-13","s":0.028},{"d":"2020-10-19","s":0.029},{"d":"2020-10-25","s":0.031},{"d":"2020-10-31","s":0.035},{"d":"2020-11-04","s":0.042},{"d":"2020-11-08","s":0.051},{"d":"2020-11-12","s":0.058},{"d":"2020-11-17","s":0.066},{"d":"2020-11-22","s":0.072},{"d":"2020-11-26","s":0.088},{"d":"2020-11-30","s":0.1},
{"d":"2020-12-03","s":0.105},{"d":"2020-12-07","s":0.118},{"d":"2020-12-11","s":0.13},{"d":"2020-12-15","s":0.14},{"d":"2020-12-19","s":0.152},{"d":"2020-12-23","s":0.162},{"d":"2020-12-27","s":0.167},{"d":"2020-12-31","s":0.169},{"d":"2021-01-04","s":0.159},{"d":"2021-01-08","s":0.145},{"d":"2021-01-12","s":0.131},{"d":"2021-01-16","s":0.118},{"d":"2021-01-21","s":0.104},{"d":"2021-01-26","s":0.093},{"d":"2021-01-31","s":0.084},
{"d":"2021-02-05","s":0.072},{"d":"2021-02-09","s":0.063},{"d":"2021-02-14","s":0.048},{"d":"2021-02-18","s":0.04},{"d":"2021-02-21","s":0.033},{"d":"2021-02-26","s":0.027},{"d":"2021-03-03","s":0.024},{"d":"2021-03-09","s":0.022},{"d":"2021-03-20","s":0.02},{"d":"2021-04-01","s":0.019},{"d":"2021-04-13","s":0.018},{"d":"2021-04-26","s":0.016},{"d":"2021-05-08","s":0.013},{"d":"2021-05-20","s":0.011},{"d":"2021-06-04","s":0.008},{"d":"2021-06-20","s":0.009},
{"d":"2021-07-02","s":0.016},{"d":"2021-07-10","s":0.024},{"d":"2021-07-18","s":0.036},{"d":"2021-07-24","s":0.048},{"d":"2021-07-30","s":0.062},{"d":"2021-08-04","s":0.067},{"d":"2021-08-08","s":0.066},{"d":"2021-08-14","s":0.059},{"d":"2021-08-21","s":0.051},{"d":"2021-08-28","s":0.045},{"d":"2021-09-04","s":0.04},{"d":"2021-09-10","s":0.035},{"d":"2021-09-17","s":0.031},{"d":"2021-09-24","s":0.026},
{"d":"2021-10-01","s":0.023},{"d":"2021-10-08","s":0.022},{"d":"2021-10-16","s":0.022},{"d":"2021-10-24","s":0.023},{"d":"2021-10-31","s":0.023},{"d":"2021-11-08","s":0.022},{"d":"2021-11-15","s":0.022},{"d":"2021-11-22","s":0.021},{"d":"2021-11-25","s":0.027},{"d":"2021-11-27","s":0.032},{"d":"2021-11-29","s":0.024},{"d":"2021-12-02","s":0.023},{"d":"2021-12-08","s":0.023},{"d":"2021-12-14","s":0.023},{"d":"2021-12-17","s":0.026},{"d":"2021-12-19","s":0.032},
{"d":"2021-12-21","s":0.06},{"d":"2021-12-23","s":0.1},{"d":"2021-12-25","s":0.15},{"d":"2021-12-27","s":0.19},{"d":"2021-12-29","s":0.215},{"d":"2021-12-31","s":0.222},{"d":"2022-01-03","s":0.228},{"d":"2022-01-07","s":0.231},{"d":"2022-01-10","s":0.226},{"d":"2022-01-13","s":0.217},{"d":"2022-01-16","s":0.212},{"d":"2022-01-19","s":0.21},{"d":"2022-01-22","s":0.207}
]
},
"layer":[
{
"data":{"name":"bars"},
"mark":{"type":"bar","color":"#d9e5f3","binSpacing":0,"stroke":"#d9e5f3","strokeWidth":0.8},
"encoding":{
"x":{"field":"d","type":"temporal","timeUnit":"utcyearmonthdate",
"scale":{"type":"utc","domain":[{"year":2020,"month":3,"date":1,"utc":true},{"year":2022,"month":1,"date":24,"utc":true}]},
"axis":{"title":"Testing date","titleAnchor":"end","titleFontSize":23,"titleFontWeight":"normal","titleColor":"#000000","titlePadding":30,"titleFont":"Roboto",
"values":[{"year":2020,"month":3,"date":1,"utc":true},{"year":2020,"month":6,"date":1,"utc":true},{"year":2020,"month":9,"date":1,"utc":true},{"year":2020,"month":12,"date":1,"utc":true},{"year":2021,"month":3,"date":1,"utc":true},{"year":2021,"month":6,"date":1,"utc":true},{"year":2021,"month":9,"date":1,"utc":true},{"year":2021,"month":12,"date":1,"utc":true}],
"format":"%-m/%-d","labelFontSize":21,"labelColor":"#666666","labelFont":"Roboto","labelFlush":false,"tickColor":"#999999","tickSize":7,"labelPadding":4,"domain":false,"grid":false}},
"y":{"field":"n","type":"quantitative","scale":{"domain":[0,3000],"nice":false},
"axis":{"orient":"right","values":[0,1000,2000,3000],"format":",.0f","title":null,"grid":false,"ticks":false,"domain":false,"labelPadding":47,"labelFontSize":24,"labelColor":"#4c5ba6","labelFont":"Roboto"}}
}
},
{
"data":{"values":[{}]},
"mark":{"type":"rect","color":"#808080","opacity":0.12},
"encoding":{
"x":{"datum":{"year":2022,"month":1,"date":15,"utc":true},"type":"temporal"},
"x2":{"datum":{"year":2022,"month":1,"date":24,"utc":true}}
}
},
{
"data":{"name":"state"},
"mark":{"type":"line","strokeWidth":3},
"encoding":{
"x":{"field":"d","type":"temporal"},
"y":{"field":"s","type":"quantitative","scale":{"domain":[0,0.4],"nice":false},"axis":null},
"color":{"datum":"State","type":"nominal"}
}
},
{
"data":{"name":"county"},
"mark":{"type":"line","strokeWidth":3.5},
"encoding":{
"x":{"field":"d","type":"temporal"},
"y":{"field":"c","type":"quantitative","scale":{"domain":[0,0.4],"nice":false},
"axis":{"orient":"left","values":[0,0.1,0.2,0.3,0.4],"format":".0%","title":null,"grid":true,"gridColor":"#000000","gridOpacity":0.1,"ticks":false,"domain":false,"labelPadding":22,"labelFontSize":24,"labelColor":"#333333","labelFont":"Roboto","zindex":1}},
"color":{"datum":"County","type":"nominal",
"scale":{"domain":["County","State"],"range":["#000000","#7f7f7f"]},
"legend":{"orient":"none","legendX":0,"legendY":503,"direction":"horizontal","title":null,"symbolType":"stroke","symbolSize":2401,"symbolStrokeWidth":3,"labelFontSize":23,"labelColor":"#666666","labelFont":"Roboto","labelOffset":22,"columnPadding":16,"padding":0,"offset":0}}
}
},
{
"data":{"values":[{}]},
"mark":{"type":"point","shape":"M0,-1C0.1495,-1 0.2706,-0.5523 0.2706,0C0.2706,0.5523 0.1495,1 0,1C-0.1495,1 -0.2706,0.5523 -0.2706,0C-0.2706,-0.5523 -0.1495,-1 0,-1Z","size":367236,"filled":false,"stroke":"#3d5a23","strokeWidth":5,"opacity":1,"strokeOpacity":1},
"encoding":{
"x":{"datum":{"year":2021,"month":12,"date":8,"utc":true},"type":"temporal"},
"y":{"datum":0.2106,"type":"quantitative","scale":{"domain":[0,0.4],"nice":false},"axis":null}
}
},
{
"data":{"values":[{}]},
"mark":{"type":"text","text":"Pending","align":"right","baseline":"alphabetic","dx":-3,"dy":-7,"fontSize":24,"color":"#8a8a8a","font":"Roboto"},
"encoding":{
"x":{"datum":{"year":2022,"month":1,"date":24,"utc":true},"type":"temporal"},
"y":{"datum":0.4,"type":"quantitative","scale":{"domain":[0,0.4],"nice":false},"axis":null}
}
}
],
"resolve":{"scale":{"y":"independent"}}
}
